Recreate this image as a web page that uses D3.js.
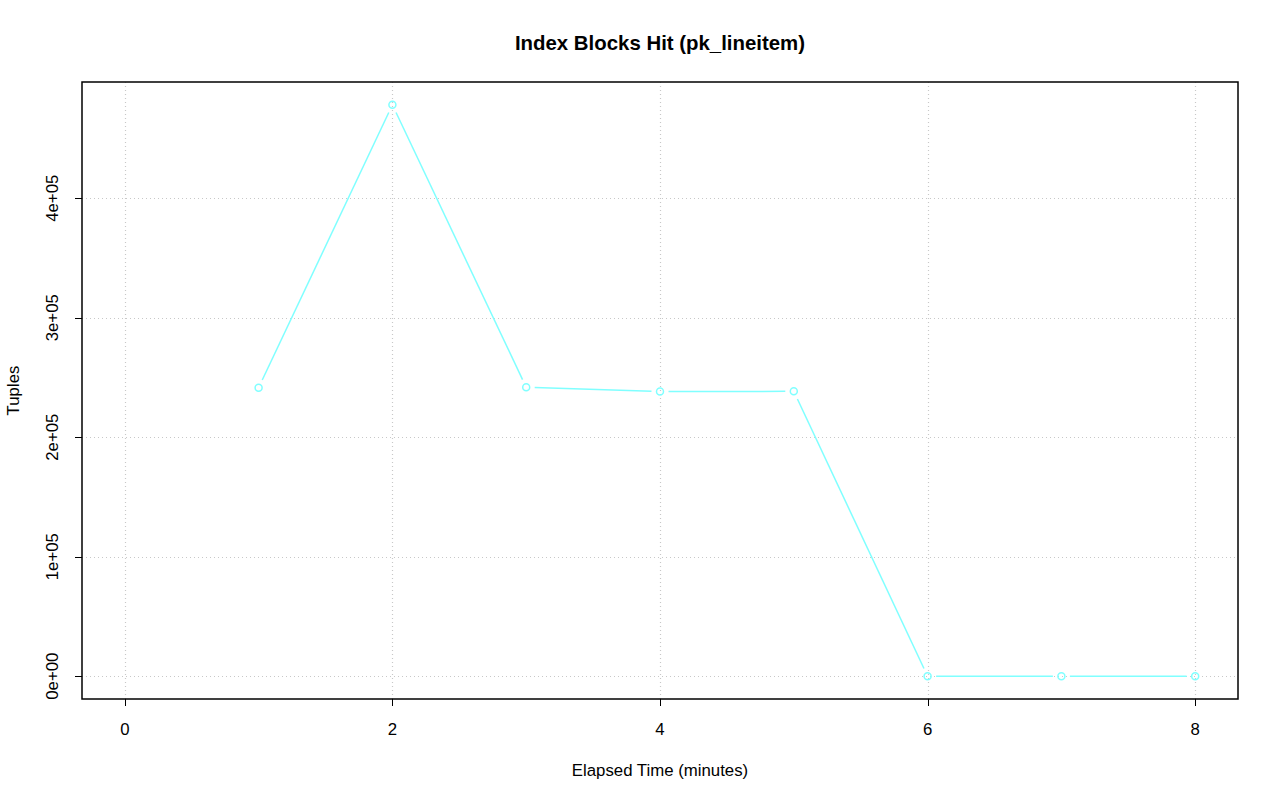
<!DOCTYPE html>
<html>
<head>
<meta charset="utf-8">
<script src="https://cdn.jsdelivr.net/npm/d3@7"></script>
<style>
  body { margin: 0; background: #fff; }
  text { font-family: "Liberation Sans", Arial, sans-serif; fill: #000; }
</style>
</head>
<body>
<div id="chart"></div>
<script>
var width = 1280,
    height = 801;

// data
var minutes = [1, 2, 3, 4, 5, 6, 7, 8];
var tuples = [241500, 478200, 241800, 238200, 238400, 0, 0, 0];
var xTicks = [0, 2, 4, 6, 8];
var yTicks = [0, 100000, 200000, 300000, 400000];
var yTickLabels = ["0e+00", "1e+05", "2e+05", "3e+05", "4e+05"];

var plotL = 82, plotR = 1238, plotT = 82, plotB = 699;
var lineColor = "#80ffff";

var svg = d3.select("#chart").append("svg")
    .attr("width", width)
    .attr("height", height);

// R style 4% padding
var xMin = 0, xMax = 8;
var xPad = (xMax - xMin) * 0.04;
var x = d3.scaleLinear().domain([xMin - xPad, xMax + xPad]).range([plotL, plotR]);

var yMax = d3.max(tuples);
var yPad = yMax * 0.04;
var y = d3.scaleLinear().domain([-yPad, yMax + yPad]).range([plotB, plotT]);

// grid
var grid = svg.append("g")
    .attr("stroke", "#c8c8c8")
    .attr("stroke-dasharray", "1,3")
    .attr("stroke-width", 1.2);

grid.selectAll(".vg").data(xTicks).enter().append("line")
    .attr("x1", function(d) { return Math.round(x(d)) + 0.5; })
    .attr("x2", function(d) { return Math.round(x(d)) + 0.5; })
    .attr("y1", plotT)
    .attr("y2", plotB);

grid.selectAll(".hg").data(yTicks).enter().append("line")
    .attr("y1", function(d) { return Math.round(y(d)) + 0.5; })
    .attr("y2", function(d) { return Math.round(y(d)) + 0.5; })
    .attr("x1", plotL)
    .attr("x2", plotR);

// line segments with gaps around the points (type = "b")
var gap = 8.5;
var segs = [];
for (var i = 0; i < minutes.length - 1; i++) {
  var x1 = x(minutes[i]), y1 = y(tuples[i]),
      x2 = x(minutes[i + 1]), y2 = y(tuples[i + 1]);
  var len = Math.sqrt((x2 - x1) * (x2 - x1) + (y2 - y1) * (y2 - y1));
  var ux = (x2 - x1) / len, uy = (y2 - y1) / len;
  segs.push({x1: x1 + ux * gap, y1: y1 + uy * gap, x2: x2 - ux * gap, y2: y2 - uy * gap});
}

svg.append("g").selectAll("line").data(segs).enter().append("line")
    .attr("x1", function(d) { return d.x1; })
    .attr("y1", function(d) { return d.y1; })
    .attr("x2", function(d) { return d.x2; })
    .attr("y2", function(d) { return d.y2; })
    .attr("stroke", lineColor)
    .attr("stroke-width", 1.5);

svg.append("g").selectAll("circle").data(minutes).enter().append("circle")
    .attr("cx", function(d) { return x(d); })
    .attr("cy", function(d, i) { return y(tuples[i]); })
    .attr("r", 3.5)
    .attr("fill", "none")
    .attr("stroke", lineColor)
    .attr("stroke-width", 1.5);

// box
svg.append("rect")
    .attr("x", plotL)
    .attr("y", plotT)
    .attr("width", plotR - plotL)
    .attr("height", plotB - plotT)
    .attr("fill", "none")
    .attr("stroke", "#000")
    .attr("stroke-width", 1.5);

// x axis
var xAxis = svg.append("g");
xAxis.selectAll("line").data(xTicks).enter().append("line")
    .attr("x1", function(d) { return Math.round(x(d)) + 0.5; })
    .attr("x2", function(d) { return Math.round(x(d)) + 0.5; })
    .attr("y1", plotB)
    .attr("y2", plotB + 7)
    .attr("stroke", "#000");
xAxis.selectAll("text").data(xTicks).enter().append("text")
    .attr("x", function(d) { return x(d); })
    .attr("y", 735)
    .attr("text-anchor", "middle")
    .style("font-size", "16.8px")
    .text(function(d) { return d; });

// y axis
var yAxis = svg.append("g");
yAxis.selectAll("line").data(yTicks).enter().append("line")
    .attr("y1", function(d) { return Math.round(y(d)) + 0.5; })
    .attr("y2", function(d) { return Math.round(y(d)) + 0.5; })
    .attr("x1", plotL)
    .attr("x2", plotL - 7)
    .attr("stroke", "#000");
yAxis.selectAll("text").data(yTicks).enter().append("text")
    .attr("transform", function(d) { return "translate(58," + y(d) + ") rotate(-90)"; })
    .attr("text-anchor", "middle")
    .style("font-size", "16.8px")
    .text(function(d, i) { return yTickLabels[i]; });

// labels
svg.append("text")
    .attr("x", (plotL + plotR) / 2)
    .attr("y", 50)
    .attr("text-anchor", "middle")
    .style("font-size", "20.4px")
    .style("font-weight", "bold")
    .text("Index Blocks Hit (pk_lineitem)");

svg.append("text")
    .attr("x", (plotL + plotR) / 2)
    .attr("y", 776)
    .attr("text-anchor", "middle")
    .style("font-size", "16.8px")
    .text("Elapsed Time (minutes)");

svg.append("text")
    .attr("transform", "translate(19," + (plotT + plotB) / 2 + ") rotate(-90)")
    .attr("text-anchor", "middle")
    .style("font-size", "16.8px")
    .text("Tuples");
</script>
</body>
</html>
